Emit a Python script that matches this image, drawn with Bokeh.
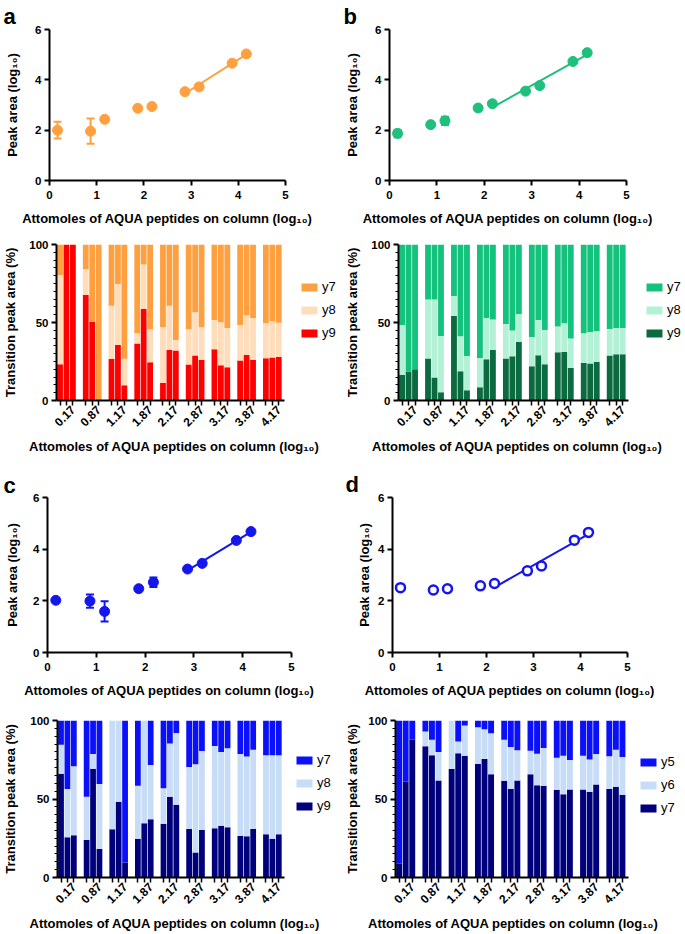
import math
import numpy as np
from bokeh.plotting import figure
from bokeh.models import (Range1d, FixedTicker, Legend, LegendItem, Title,
                          Whisker, TeeHead, ColumnDataSource)
from bokeh.layouts import row, column
from bokeh.embed import file_html
from bokeh.resources import INLINE

FONT = "Liberation Sans"

# ---------------- data ----------------
X_LOG = [0.17, 0.87, 1.17, 1.87, 2.17, 2.87, 3.17, 3.87, 4.17]
GROUP_LABELS = ["0.17", "0.87", "1.17", "1.87", "2.17", "2.87", "3.17", "3.87", "4.17"]

A_PEAK = [2.00, 1.96, 2.43, 2.87, 2.94, 3.53, 3.72, 4.66, 5.03]
A_ERR = [0.33, 0.50, 0.0, 0.0, 0.08, 0.0, 0.0, 0.0, 0.0]
B_PEAK = [1.87, 2.22, 2.37, 2.88, 3.05, 3.55, 3.77, 4.73, 5.08]
B_ERR = [0.15, 0.0, 0.16, 0.0, 0.0, 0.0, 0.0, 0.0, 0.0]
C_PEAK = [2.02, 1.99, 1.59, 2.47, 2.72, 3.23, 3.45, 4.34, 4.68]
C_ERR = [0.0, 0.26, 0.39, 0.0, 0.18, 0.0, 0.0, 0.0, 0.0]
D_PEAK = [2.51, 2.42, 2.47, 2.58, 2.67, 3.16, 3.35, 4.35, 4.65]
D_ERR = [0.0, 0.05, 0.0, 0.0, 0.05, 0.0, 0.0, 0.0, 0.0]

# transition shares (%) per replicate bar, 3 replicates per amount
A_Y9 = [23.2, 100, 100, 67.6, 50.5, 0, 26.7, 35.6, 9.8, 36.5, 58.6, 24.5, 11.3, 32.4, 32.0,
        23.0, 28.8, 26.2, 32.8, 22.6, 21.3, 25.6, 29.4, 26.2, 27.1, 27.5, 27.9]
A_Y8 = [57.2, 0, 0, 16.6, 0, 0, 34.1, 39.0, 16.9, 6.6, 28.6, 21.1, 35.6, 28.4, 6.8,
        22.6, 27.7, 20.7, 18.8, 27.5, 25.2, 22.8, 25.2, 26.7, 22.4, 23.5, 22.0]
B_Y9 = [16.4, 18.6, 20.0, 26.9, 14.7, 5.3, 54.2, 18.8, 6.6, 8.5, 26.4, 32.6, 26.9, 28.4, 37.7,
        22.0, 29.0, 23.2, 30.9, 31.1, 20.9, 24.1, 23.7, 24.7, 28.8, 29.6, 29.6]
B_Y8 = [32.0, 0, 0, 37.9, 50.1, 36.1, 12.8, 22.4, 22.0, 18.8, 26.5, 19.4, 22.1, 16.4, 17.7,
        18.7, 22.6, 22.0, 16.6, 18.4, 18.8, 19.0, 20.2, 19.9, 17.0, 16.9, 16.9]
C_Y9 = [66.1, 25.6, 26.9, 23.9, 69.3, 18.1, 30.7, 48.2, 9.6, 24.7, 34.5, 37.1, 34.3, 51.4, 46.3,
        30.9, 16.0, 30.3, 31.3, 33.0, 32.0, 26.4, 26.2, 30.9, 27.5, 24.7, 27.5]
C_Y8 = [18.5, 30.7, 43.9, 27.5, 9.4, 41.4, 69.3, 51.8, 0, 33.7, 65.5, 34.5, 22.6, 33.9, 45.8,
        39.5, 56.1, 50.3, 52.5, 47.0, 50.3, 52.3, 50.8, 50.5, 50.3, 53.1, 50.3]
D_Y7 = [8.7, 61.2, 87.8, 83.6, 77.8, 61.8, 69.1, 79.1, 77.6, 72.3, 75.5, 65.7, 61.6, 56.3, 61.8,
        65.7, 58.8, 58.4, 55.9, 53.1, 56.1, 56.1, 54.6, 59.3, 56.3, 57.8, 52.7]
D_Y6 = [0, 0, 0, 9.4, 10.0, 18.2, 30.9, 7.5, 19.2, 23.4, 19.0, 26.2, 26.2, 26.9, 19.2,
        15.1, 20.1, 24.1, 20.4, 24.5, 18.7, 21.5, 20.5, 19.4, 20.9, 23.6, 24.1]

X_TITLE = "Attomoles of AQUA peptides on column (log\u2081\u2080)"
Y_TITLE_SC = "Peak area (log\u2081\u2080)"
Y_TITLE_BAR = "Transition peak area (%)"

ORANGE, PEACH, RED = "#FFA040", "#FFDDBB", "#FF0000"
GREEN, MINT, DKGREEN = "#14C27E", "#B2F1D6", "#0B6A3F"
BLUE, LTBLUE, NAVY = "#0A10FA", "#C7DCF7", "#00007C"
SC_GREEN = "#1DC07C"
SC_BLUE = "#1515EE"
X_TITLE_W = 289   # approximate rendered width of the x title (px)


def make_fig(W, H, L, T, fw, fh, xr, yr):
    p = figure(width=W, height=H, x_range=xr, y_range=yr,
               output_backend="svg", toolbar_location=None,
               min_border_left=L, min_border_top=T,
               min_border_right=W - L - fw, min_border_bottom=H - T - fh)
    p.grid.visible = False
    p.outline_line_color = None
    return p


def style_axes(p):
    for ax in (p.xaxis[0], p.yaxis[0]):
        ax.axis_line_width = 2
        ax.axis_line_color = "black"
        ax.major_tick_line_width = 2
        ax.major_tick_line_color = "black"
        ax.major_tick_in = 0
        ax.major_tick_out = 5
        ax.minor_tick_line_color = None
        ax.major_label_text_font = FONT
        ax.major_label_text_font_style = "bold"
        ax.major_label_text_font_size = "11.5px"
        ax.major_label_text_color = "black"
        ax.major_label_standoff = 3
        ax.axis_label_text_font = FONT
        ax.axis_label_text_font_style = "bold"
        ax.axis_label_text_font_size = "13px"
        ax.axis_label_text_color = "black"


def scatter_panel(letter, peak, err, fit_start, color, filled, dims):
    W, H, L, T, fw, fh, ylab_sd, t_off, t_sd = dims
    p = make_fig(W, H, L, T, fw, fh, Range1d(0, 5), Range1d(0, 6))
    style_axes(p)
    p.xaxis.ticker = FixedTicker(ticks=[0, 1, 2, 3, 4, 5])
    p.yaxis.ticker = FixedTicker(ticks=[0, 2, 4, 6])
    p.xaxis.axis_label = X_TITLE
    p.yaxis.axis_label = Y_TITLE_SC
    p.xaxis.major_label_standoff = 5
    p.xaxis.axis_label_standoff = 9
    p.yaxis.axis_label_standoff = ylab_sd

    fx = np.array(X_LOG[fit_start:])
    fy = np.array(peak[fit_start:])
    k, b = np.polyfit(fx, fy, 1)
    ends = np.array([fx[0], fx[-1]])
    p.line(ends, k * ends + b, line_color=color, line_width=2)

    idx = [i for i, e in enumerate(err) if e > 0]
    src = ColumnDataSource(dict(x=[X_LOG[i] for i in idx],
                                lo=[peak[i] - err[i] for i in idx],
                                hi=[peak[i] + err[i] for i in idx]))
    w = Whisker(source=src, base="x", lower="lo", upper="hi",
                line_color=color, line_width=2,
                upper_head=TeeHead(size=8, line_color=color, line_width=2),
                lower_head=TeeHead(size=8, line_color=color, line_width=2))
    p.add_layout(w)

    if filled:
        p.scatter(X_LOG, peak, size=10, fill_color=color, line_color=color)
    else:
        p.scatter(X_LOG, peak, size=9, fill_color="white", line_color=color,
                  line_width=2.5)

    p.title.text = letter
    p.title.align = "left"
    p.title.offset = t_off
    p.title.standoff = t_sd
    p.title.text_font = FONT
    p.title.text_font_style = "bold"
    p.title.text_font_size = "22px"
    p.title.text_color = "black"
    return p


def bar_panel(bottom_vals, mid_vals, colors, names, dims):
    W, H, L, T, bw, fh, ylab_sd, lg_dx, lg_y = dims
    fw = W - L - 2                      # frame reaches the legend area
    pos = [g * 4 + j for g in range(9) for j in range(3)]
    x0, x1 = -0.55, 34.95
    x_end = x0 + (x1 - x0) * fw / bw
    lo = np.array(bottom_vals, dtype=float)
    mid = lo + np.array(mid_vals, dtype=float)
    p = make_fig(W, H, L, T, fw, fh, Range1d(x0, x_end), Range1d(0, 100))
    style_axes(p)
    r_bot = p.vbar(x=pos, bottom=0, top=lo, width=0.9,
                   fill_color=colors[2], line_color=None)
    r_mid = p.vbar(x=pos, bottom=lo, top=mid, width=0.9,
                   fill_color=colors[1], line_color=None)
    r_top = p.vbar(x=pos, bottom=mid, top=100, width=0.9,
                   fill_color=colors[0], line_color=None)
    p.xaxis.bounds = (x0, x1)
    p.xaxis.ticker = FixedTicker(ticks=pos)
    p.xaxis.major_label_overrides = {
        x: (GROUP_LABELS[i // 3] if i % 3 == 2 else "") for i, x in enumerate(pos)}
    p.xaxis.major_label_orientation = math.pi / 4
    p.xaxis.major_label_text_font_size = "12px"
    p.xaxis.major_label_standoff = 2
    p.xaxis.major_tick_line_width = 1.5
    p.yaxis.ticker = FixedTicker(ticks=[0, 50, 100],
                                 minor_ticks=[v for v in range(5, 100, 5) if v != 50])
    p.yaxis.minor_tick_line_color = "black"
    p.yaxis.minor_tick_line_width = 1.2
    p.yaxis.minor_tick_in = 0
    p.yaxis.minor_tick_out = 3
    p.yaxis.axis_label = Y_TITLE_BAR
    p.yaxis.axis_label_standoff = ylab_sd

    xt = Title(text=X_TITLE, align="left", offset=(bw - X_TITLE_W) / 2,
               standoff=7, text_font=FONT, text_font_style="bold",
               text_font_size="13px", text_color="black")
    p.add_layout(xt, "below")

    legend = Legend(items=[LegendItem(label=names[0], renderers=[r_top]),
                           LegendItem(label=names[1], renderers=[r_mid]),
                           LegendItem(label=names[2], renderers=[r_bot])],
                    location=(bw + lg_dx, lg_y), margin=0, padding=0,
                    border_line_color=None, background_fill_alpha=0,
                    glyph_width=20, glyph_height=10, label_height=10,
                    spacing=8, label_standoff=3,
                    label_text_font=FONT, label_text_font_size="13px",
                    label_text_color="black")
    p.add_layout(legend)
    return p


# scatter dims: (W, H, left, top, frame_w, frame_h, ylabel_standoff, letter_offset, letter_standoff)
pa = scatter_panel("a", A_PEAK, A_ERR, 5, ORANGE, True, (342, 228, 49, 26, 236, 157, 12, -46, 2))
pb = scatter_panel("b", B_PEAK, B_ERR, 4, SC_GREEN, True, (343, 228, 47, 25, 237, 157, 12, -46, 2))
pc = scatter_panel("c", C_PEAK, C_ERR, 5, SC_BLUE, True, (342, 240, 47, 34, 244, 161, 10, -44, 0))
pd_ = scatter_panel("d", D_PEAK, D_ERR, 4, SC_BLUE, False, (343, 240, 50, 37, 235, 159, 3, -47, 1))

# bar dims: (W, H, left, top, bars_w, frame_h, ylabel_standoff, legend_dx, legend_bottom)
ba = bar_panel(A_Y9, A_Y8, [ORANGE, PEACH, RED], ["y7", "y8", "y9"],
               (342, 232, 49, 14, 234, 158, 8, 9, 60))
bb = bar_panel(B_Y9, B_Y8, [GREEN, MINT, DKGREEN], ["y7", "y8", "y9"],
               (343, 232, 49, 16, 236, 157, 8, 10, 60))
bc = bar_panel(C_Y9, C_Y8, [BLUE, LTBLUE, NAVY], ["y7", "y8", "y9"],
               (342, 234, 50, 19, 233, 159, 9, 4, 64))
bd = bar_panel(D_Y7, D_Y6, [BLUE, LTBLUE, NAVY], ["y5", "y6", "y7"],
               (343, 234, 52, 20, 234, 158, 5, 9, 62))

layout = column(row(pa, pb), row(ba, bb), row(pc, pd_), row(bc, bd))

with open("out.html", "w") as f:
    f.write(file_html(layout, INLINE))
